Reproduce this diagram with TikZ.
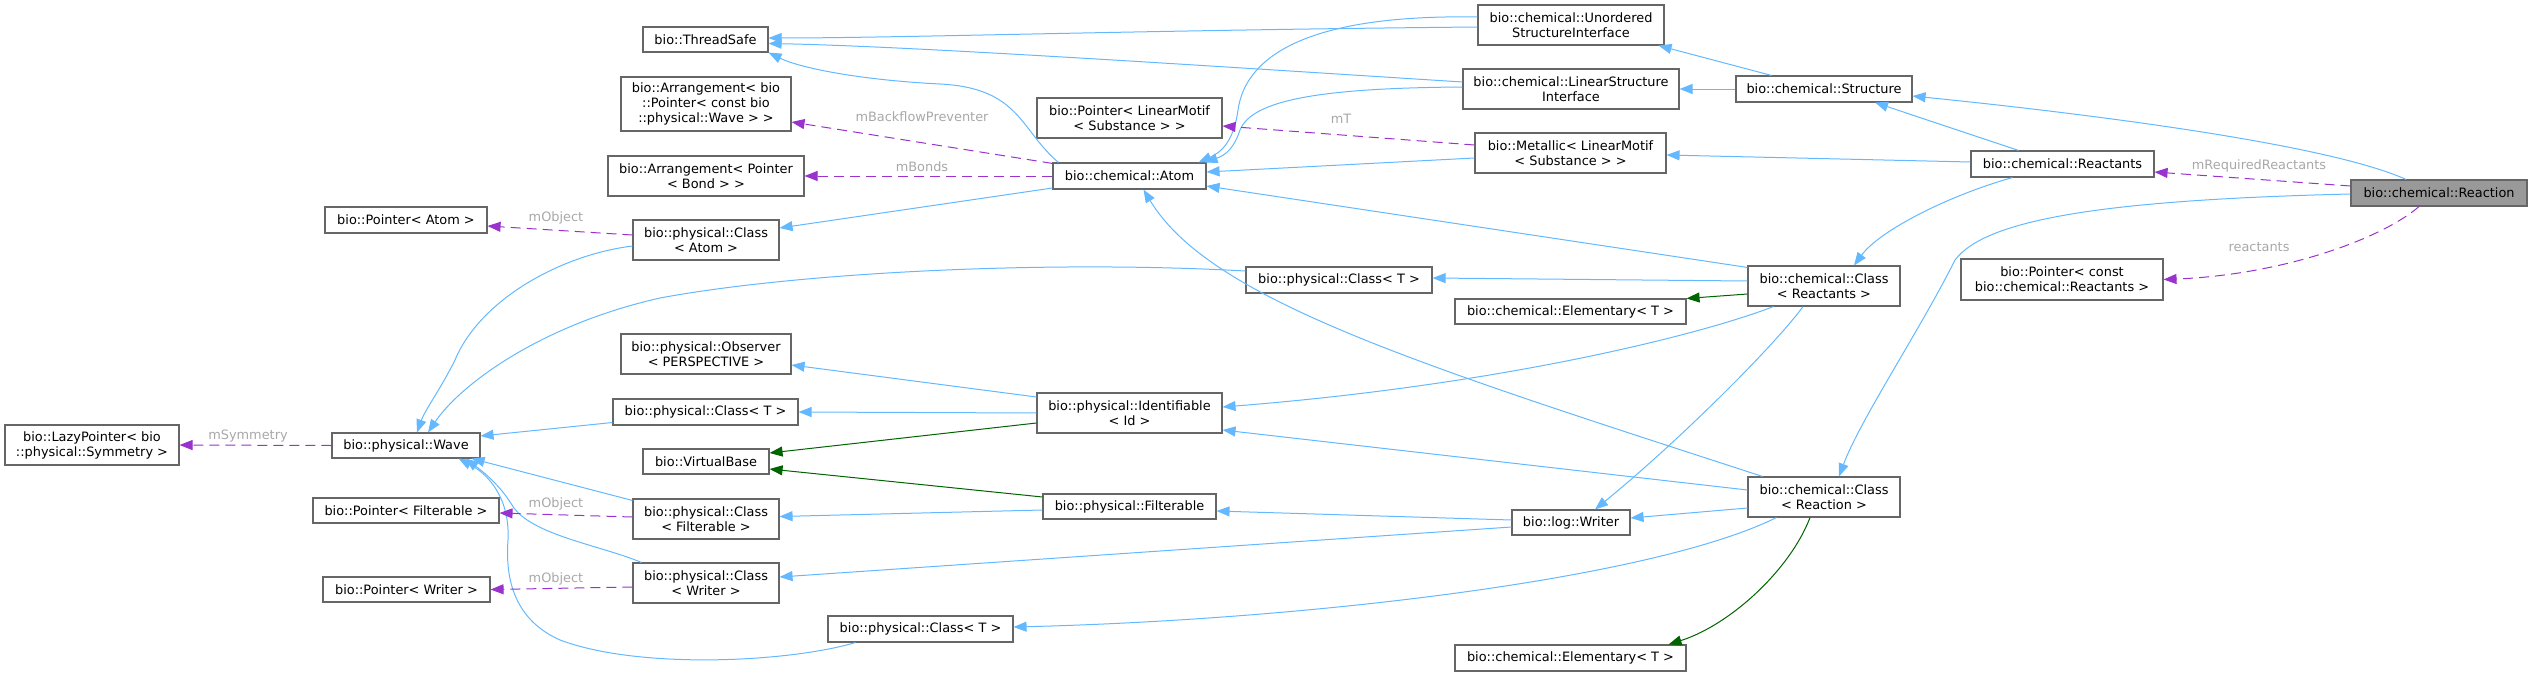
\documentclass[tikz,border=0pt]{standalone}
\usepackage{fontspec}
\setmainfont{DejaVu Sans}
\usetikzlibrary{arrows.meta,calc}
\definecolor{boxline}{HTML}{666666}
\definecolor{selfill}{HTML}{999999}
\definecolor{inhblue}{HTML}{63B8FF}
\definecolor{protgreen}{HTML}{006400}
\definecolor{usepurple}{HTML}{9A32CD}
\definecolor{lblgray}{HTML}{A8A8A8}
\tikzset{
  cls/.style={draw=boxline, line width=1.1pt, fill=white, inner sep=0pt, align=center,
    font=\fontsize{12.9pt}{15pt}\selectfont},
  sel/.style={cls, fill=selfill},
  inh/.style={draw=inhblue, line width=1pt, -{Triangle[length=13pt,width=10pt]}},
  prot/.style={draw=protgreen, line width=1pt, -{Triangle[length=13pt,width=10pt]}},
  use/.style={draw=usepurple, line width=1pt, dash pattern=on 10pt off 6pt,
    -{Triangle[length=13pt,width=10pt]}},
  lbl/.style={text=lblgray, inner sep=0pt, font=\fontsize{12.9pt}{15pt}\selectfont}
}
\begin{document}
\begin{tikzpicture}[x=1pt,y=-1pt]
\useasboundingbox (0,0) rectangle (2532,677);
% nodes
\node[cls, minimum width=125pt, minimum height=25pt] (threadsafe) at (705.5,39.5) {bio::ThreadSafe};
\node[cls, minimum width=170pt, minimum height=54pt] (arrWave) at (706,104) {bio::Arrangement< bio\\::Pointer< const bio\\::physical::Wave > >};
\node[cls, minimum width=196pt, minimum height=40pt] (arrBond) at (706,176) {bio::Arrangement< Pointer\\< Bond > >};
\node[cls, minimum width=162pt, minimum height=26pt] (ptrAtom) at (406,220) {bio::Pointer< Atom >};
\node[cls, minimum width=146pt, minimum height=40pt] (classAtom) at (706,240) {bio::physical::Class\\< Atom >};
\node[cls, minimum width=170pt, minimum height=40pt] (observer) at (706,354) {bio::physical::Observer\\< PERSPECTIVE >};
\node[cls, minimum width=185pt, minimum height=26pt] (classTleft) at (705.5,412) {bio::physical::Class< T >};
\node[cls, minimum width=174pt, minimum height=40pt] (lazy) at (92,445) {bio::LazyPointer< bio\\::physical::Symmetry >};
\node[cls, minimum width=148pt, minimum height=25pt] (wave) at (406,445.5) {bio::physical::Wave};
\node[cls, minimum width=126pt, minimum height=25pt] (virtualbase) at (706,461.5) {bio::VirtualBase};
\node[cls, minimum width=186pt, minimum height=25pt] (ptrFilt) at (406,510.5) {bio::Pointer< Filterable >};
\node[cls, minimum width=146pt, minimum height=40pt] (classFilt) at (706,519) {bio::physical::Class\\< Filterable >};
\node[cls, minimum width=167pt, minimum height=25pt] (ptrWriter) at (406.5,589.5) {bio::Pointer< Writer >};
\node[cls, minimum width=146pt, minimum height=40pt] (classWriter) at (706,583) {bio::physical::Class\\< Writer >};
\node[cls, minimum width=185pt, minimum height=26pt] (classTbot) at (920.5,629) {bio::physical::Class< T >};
\node[cls, minimum width=186pt, minimum height=40pt] (unordered) at (1571,25) {bio::chemical::Unordered\\StructureInterface};
\node[cls, minimum width=216pt, minimum height=40pt] (lsi) at (1571,89) {bio::chemical::LinearStructure\\Interface};
\node[cls, minimum width=185pt, minimum height=40pt] (ptrLinear) at (1129.5,118) {bio::Pointer< LinearMotif\\< Substance > >};
\node[cls, minimum width=191pt, minimum height=40pt] (metallic) at (1570.5,153) {bio::Metallic< LinearMotif\\< Substance > >};
\node[cls, minimum width=153pt, minimum height=26pt] (atom) at (1129.5,176) {bio::chemical::Atom};
\node[cls, minimum width=186pt, minimum height=26pt] (classTmid) at (1339,280) {bio::physical::Class< T >};
\node[cls, minimum width=231pt, minimum height=25pt] (elemUp) at (1570.5,311.5) {bio::chemical::Elementary< T >};
\node[cls, minimum width=185pt, minimum height=40pt] (identifiable) at (1129.5,413) {bio::physical::Identifiable\\< Id >};
\node[cls, minimum width=173pt, minimum height=25pt] (filterable) at (1129.5,506.5) {bio::physical::Filterable};
\node[cls, minimum width=118pt, minimum height=25pt] (writer) at (1571,522.5) {bio::log::Writer};
\node[cls, minimum width=231pt, minimum height=26pt] (elemBot) at (1570.5,658) {bio::chemical::Elementary< T >};
\node[cls, minimum width=176pt, minimum height=26pt] (structure) at (1824,89) {bio::chemical::Structure};
\node[cls, minimum width=183pt, minimum height=26pt] (reactants) at (2062.5,164) {bio::chemical::Reactants};
\node[sel, minimum width=176pt, minimum height=26pt] (reaction) at (2439,193) {bio::chemical::Reaction};
\node[cls, minimum width=152pt, minimum height=40pt] (classReactants) at (1824,286) {bio::chemical::Class\\< Reactants >};
\node[cls, minimum width=202pt, minimum height=41pt] (ptrConst) at (2062,279.5) {bio::Pointer< const\\ bio::chemical::Reactants >};
\node[cls, minimum width=152pt, minimum height=40pt] (classReaction) at (1824,497) {bio::chemical::Class\\< Reaction >};
% labels
\node[lbl] (lBack) at (922,117) {mBackflowPreventer};
\node[lbl] (lBonds) at (922,167) {mBonds};
\node[lbl] (lObjA) at (556,218) {mObject};
\node[lbl] (lSym) at (248,436) {mSymmetry};
\node[lbl] (lObjF) at (556,504) {mObject};
\node[lbl] (lObjW) at (556,579) {mObject};
\node[lbl] (lT) at (1341,119) {mT};
\node[lbl] (lReq) at (2259,166) {mRequiredReactants};
\node[lbl] (lRe) at (2259,247) {reactants};
% edges
\draw[inh] ($(unordered.west)+(0,2)$) .. controls (1150,30) and (900,38) .. ($(threadsafe.east)+(0,-1.5)$);
\draw[inh] ($(lsi.west)+(0,-7)$) .. controls (1150,62) and (900,46) .. ($(threadsafe.east)+(0,4)$);
\draw[inh] ($(atom.north west)+(6,0)$) .. controls (1020,130) and (1020,88) .. (940,84) .. controls (860,80) and (800,68) .. (threadsafe.south east);
\draw[inh] ($(unordered.west)+(0,-8)$) .. controls (1300,14) and (1245,60) .. (1238,110) .. controls (1234,140) and (1222,152) .. ($(atom.north east)+(-8,0)$);
\draw[inh] ($(lsi.west)+(0,-2)$) .. controls (1320,88) and (1252,100) .. (1240,130) .. controls (1234,148) and (1226,155) .. ($(atom.north east)+(-2,0)$);
\draw[inh] ($(metallic.west)+(0,5)$) -- ($(atom.east)+(0,-4)$);
\draw[use] ($(metallic.west)+(0,-8)$) -- ($(ptrLinear.east)+(0,8)$);
\draw[use] ($(atom.north west)+(0,1)$) -- ($(arrWave.east)+(0,18)$);
\draw[use] (atom.west) -- (arrBond.east);
\draw[inh] ($(atom.west)+(0,12)$) -- ($(classAtom.east)+(0,-12)$);
\draw[use] ($(classAtom.west)+(0,-5)$) -- ($(ptrAtom.east)+(0,6)$);
\draw[inh] ($(classAtom.west)+(0,6)$) .. controls (560,255) and (480,300) .. (455,360) .. controls (440,390) and (425,410) .. ($(wave.north)+(11,0)$);
\draw[inh] ($(classTmid.west)+(0,-9)$) .. controls (1050,260) and (800,272) .. (660,298) .. controls (540,325) and (460,385) .. ($(wave.north)+(22,0)$);
\draw[inh] ($(classTleft.west)+(0,10.5)$) -- ($(wave.east)+(0,-9.5)$);
\draw[inh] ($(classFilt.north west)+(0,2)$) -- ($(wave.south east)+(-9,0)$);
\draw[inh] ($(classWriter.north west)+(9,0)$) .. controls (600,545) and (530,535) .. (512,505) .. controls (498,482) and (478,468) .. ($(wave.south east)+(-15,0)$);
\draw[inh] ($(classTbot.south west)+(28,0)$) .. controls (790,662) and (640,670) .. (560,640) .. controls (515,620) and (505,580) .. (508,540) .. controls (510,500) and (490,475) .. ($(wave.south east)+(-22,0)$);
\draw[use] (wave.west) -- (lazy.east);
\draw[use] ($(classFilt.west)+(0,-2)$) -- ($(ptrFilt.east)+(0,2.5)$);
\draw[use] ($(classWriter.west)+(0,4)$) -- (ptrWriter.east);
\draw[inh] ($(identifiable.west)+(0,-16)$) -- ($(observer.east)+(0,11)$);
\draw[inh] (identifiable.west) -- (classTleft.east);
\draw[prot] ($(identifiable.west)+(0,10)$) -- ($(virtualbase.east)+(0,-8.5)$);
\draw[prot] ($(filterable.west)+(0,-9.5)$) -- ($(virtualbase.east)+(0,7.5)$);
\draw[inh] ($(filterable.west)+(0,3.5)$) -- ($(classFilt.east)+(0,-2.5)$);
\draw[inh] ($(writer.west)+(0,-2.5)$) -- ($(filterable.east)+(0,4.5)$);
\draw[inh] ($(writer.west)+(0,4.5)$) -- ($(classWriter.east)+(0,-6)$);
\draw[inh] ($(classReactants.north west)+(0,2)$) -- ($(atom.east)+(0,10)$);
\draw[inh] ($(classReactants.west)+(0,-5)$) -- ($(classTmid.east)+(0,-2)$);
\draw[prot] ($(classReactants.west)+(0,8)$) -- (elemUp.north east);
\draw[inh] ($(classReactants.south west)+(26,0)$) .. controls (1700,335) and (1500,385) .. ($(identifiable.east)+(0,-6)$);
\draw[inh] ($(classReactants.south)+(-21,0)$) .. controls (1775,345) and (1680,440) .. ($(writer.north)+(24,0)$);
\draw[inh] ($(reactants.south)+(-50,0)$) .. controls (1950,195) and (1880,230) .. ($(classReactants.north)+(30,0)$);
\draw[inh] ($(reactants.north)+(-44,0)$) -- ($(structure.south)+(51,0)$);
\draw[inh] ($(reactants.west)+(0,-2)$) -- ($(metallic.east)+(0,2)$);
\draw[inh] ($(structure.north west)+(36,0)$) -- ($(unordered.south east)+(-6,0)$);
\draw[inh] (structure.west) -- (lsi.east);
\draw[inh] ($(reaction.north)+(-33,0)$) .. controls (2330,145) and (2100,115) .. ($(structure.east)+(0,7)$);
\draw[use] ($(reaction.west)+(0,-7)$) -- ($(reactants.east)+(0,8)$);
\draw[use] ($(reaction.south)+(-20,0)$) .. controls (2380,240) and (2280,275) .. (ptrConst.east);
\draw[inh] ($(reaction.west)+(0,1)$) .. controls (2100,200) and (1985,220) .. (1955,260) .. controls (1920,330) and (1860,420) .. ($(classReaction.north)+(15,0)$);
\draw[inh] ($(classReaction.north west)+(15,0)$) .. controls (1420,365) and (1210,300) .. ($(atom.south)+(14,0)$);
\draw[inh] ($(classReaction.west)+(0,-7)$) -- ($(identifiable.east)+(0,17)$);
\draw[inh] ($(classReaction.west)+(0,11)$) -- ($(writer.east)+(0,-4.5)$);
\draw[inh] ($(classReaction.south west)+(29,0)$) .. controls (1650,580) and (1300,620) .. ($(classTbot.east)+(0,-2)$);
\draw[prot] ($(classReaction.south)+(-14,0)$) .. controls (1790,570) and (1730,625) .. ($(elemBot.north east)+(-18,0)$);
\end{tikzpicture}
\end{document}
